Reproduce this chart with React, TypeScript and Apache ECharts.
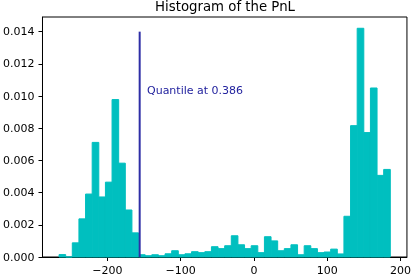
import React, { useEffect, useRef } from "react";
import * as echarts from "echarts";

// Histogram bins (density), 50 equal-width bins
const binStart = -266;
const binWidth = 9.04;
const densities = [
  0.00015, 0, 0.00088, 0.00237, 0.00391, 0.00712, 0.00373, 0.00465, 0.00978, 0.00583,
  0.00292, 0.0015, 0.00014, 0.00008, 0.00014, 0.00008, 0.0002, 0.00039, 0.00014, 0.0002,
  0.00033, 0.00027, 0.00033, 0.00064, 0.00052, 0.0007, 0.00132, 0.00076, 0.00052, 0.0007,
  0.00027, 0.00126, 0.001, 0.00039, 0.00052, 0.00076, 0.00014, 0.0007, 0.00052, 0.00027,
  0.00031, 0.00049, 0.00019, 0.00253, 0.00816, 0.01421, 0.00773, 0.0105, 0.00507, 0.00544,
];
const xTicks = [-200, -100, 0, 100, 200];
const yTicks = [0, 0.002, 0.004, 0.006, 0.008, 0.01, 0.012, 0.014];
const quantileX = -156;
const quantileTop = 0.014;
const quantileLabel = "Quantile at 0.386";
const labelX = quantileX + 10;
const labelY = 0.01;
const xMin = -288.6;
const xMax = 208.7;
const yMax = 0.01491;
const title = "Histogram of the PnL";

const FONT = "DejaVu Sans";
const BAR = "#00BFBF";

export default function App() {
  const ref = useRef<HTMLDivElement>(null);
  useEffect(() => {
    if (!ref.current) return;
    const chart = echarts.init(ref.current, null, { renderer: "svg" });
    const bins = densities.map((d, i) => [
      binStart + i * binWidth,
      binStart + (i + 1) * binWidth,
      d,
    ]);
    chart.setOption({
      animation: false,
      textStyle: { fontFamily: FONT },
      grid: {
        left: 39,
        right: 3,
        top: 17,
        bottom: 18,
        show: true,
        borderColor: "#000",
        borderWidth: 1,
      },
      graphic: [
        {
          type: "text",
          x: 225,
          y: 6,
          style: {
            text: title,
            fontFamily: FONT,
            fontSize: 13.3,
            fill: "#000",
            textAlign: "center",
            textVerticalAlign: "middle",
          },
        },
      ],
      xAxis: {
        type: "value",
        min: xMin,
        max: xMax,
        splitLine: { show: false },
        axisLine: { show: true, onZero: false, lineStyle: { color: "#000", width: 1 } },
        axisTick: {
          show: true,
          length: 4,
          customValues: xTicks,
          lineStyle: { color: "#000", width: 1 },
        },
        axisLabel: {
          customValues: xTicks,
          margin: 8,
          fontSize: 11,
          fontFamily: FONT,
          color: "#000",
          formatter: (v: number) => String(v).replace("-", "\u2212"),
        },
      },
      yAxis: {
        type: "value",
        min: 0,
        max: yMax,
        splitLine: { show: false },
        axisLine: { show: true, onZero: false, lineStyle: { color: "#000", width: 1 } },
        axisTick: {
          show: true,
          length: 4,
          customValues: yTicks,
          lineStyle: { color: "#000", width: 1 },
        },
        axisLabel: {
          customValues: yTicks,
          margin: 8,
          fontSize: 11,
          fontFamily: FONT,
          color: "#000",
          formatter: (v: number) => v.toFixed(3),
        },
      },
      series: [
        {
          type: "custom",
          data: bins,
          silent: true,
          itemStyle: { borderWidth: 0, opacity: 1 },
          renderItem: (params: any, api: any) => {
            const x0 = api.value(0);
            const x1 = api.value(1);
            const h = api.value(2);
            const p0 = api.coord([x0, h]);
            const p1 = api.coord([x1, 0]);
            return {
              type: "rect",
              shape: { x: p0[0], y: p0[1], width: p1[0] - p0[0], height: p1[1] - p0[1] },
              style: { fill: BAR, stroke: BAR, lineWidth: 1, opacity: 1 },
            };
          },
        },
        {
          type: "line",
          data: [
            [quantileX, 0],
            [quantileX, quantileTop],
          ],
          symbol: "none",
          lineStyle: { color: "#2E2EA6", width: 2 },
          z: 3,
        },
        {
          type: "scatter",
          data: [[labelX, labelY]],
          symbolSize: 0,
          itemStyle: { opacity: 1 },
          label: {
            show: true,
            position: [0, 0],
            align: "left",
            verticalAlign: "bottom",
            formatter: quantileLabel,
            fontFamily: FONT,
            fontSize: 11,
            color: "#22229E",
            opacity: 1,
          },
          z: 4,
        },
      ],
    });
    return () => chart.dispose();
  }, []);
  return (
    <div
      ref={ref}
      style={{ position: "fixed", left: 0, top: 0, width: 414, height: 276 }}
    />
  );
}
